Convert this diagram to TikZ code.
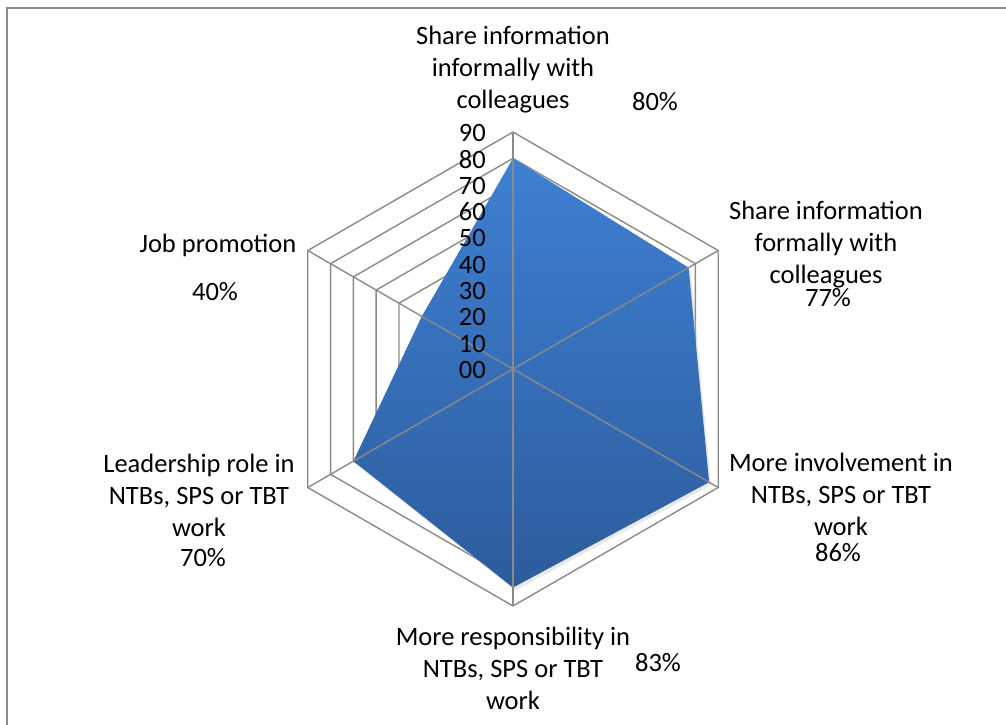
\documentclass[tikz,border=0pt]{standalone}
\usepackage{fontspec}
\setmainfont{Carlito}
\definecolor{gridgray}{HTML}{8A8A8A}
\definecolor{framegray}{HTML}{8C8C8C}
\definecolor{blueTop}{HTML}{3E80D3}
\definecolor{blueBot}{HTML}{2D5C9C}
\begin{document}
\begin{tikzpicture}[x=1pt,y=1pt,
  grid/.style={draw=gridgray, line width=1.4pt},
  lbl/.style={font=\fontsize{26.5}{32}\selectfont, align=center, inner sep=0pt},
  tick/.style={font=\fontsize{26.5}{26}\selectfont, anchor=east, inner sep=0pt}]
\useasboundingbox (0,0) rectangle (1006,-725);
\draw[framegray, line width=2pt] (1006,-8) -- (7,-8) -- (7,-725);
\coordinate (C) at (513,-369);
\begin{scope}[shift={(C)}]
  % rings
  \foreach \v in {10,20,...,90}{
    \pgfmathsetmacro\r{\v*2.633}
    \draw[grid] (90:\r) -- (30:\r) -- (-30:\r) -- (-90:\r) -- (210:\r) -- (150:\r) -- cycle;
  }
  % axis ends
  \coordinate (a1) at (90:237);
  \coordinate (a2) at (30:237);
  \coordinate (a3) at (-30:237);
  \coordinate (a4) at (-90:237);
  \coordinate (a5) at (210:237);
  \coordinate (a6) at (150:237);
  % data
  \coordinate (d1) at (90:{80*2.633});
  \coordinate (d2) at (30:{77*2.633});
  \coordinate (d3) at (-30:{86*2.633});
  \coordinate (d4) at (-90:{83*2.633});
  \coordinate (d5) at (210:{70*2.633});
  \coordinate (d6) at (150:{40*2.633});
\end{scope}
\fill[black!25, opacity=0.35] ([shift={(2,-3)}]d1) -- ([shift={(2,-3)}]d2) -- ([shift={(2,-3)}]d3) -- ([shift={(2,-3)}]d4) -- ([shift={(2,-3)}]d5) -- ([shift={(2,-3)}]d6) -- cycle;
\shade[top color=blueTop, bottom color=blueBot] (d1) -- (d2) -- (d3) -- (d4) -- (d5) -- (d6) -- cycle;
\foreach \i in {1,...,6}{ \draw[grid] (C) -- (a\i); }
% tick labels
\foreach \v/\t in {0/00,10/10,20/20,30/30,40/40,50/50,60/60,70/70,80/80,90/90}{
  \node[tick] (t\v) at (486,{-369+\v*2.633-1}) {\t};
}
% category labels
\node[lbl] (l1) at (513,-70) {Share information\\informally with\\colleagues};
\node[lbl] (p1) at (655,-102) {80\%};
\node[lbl] (l2) at (826,-245) {Share information\\formally with\\colleagues};
\node[lbl] (p2) at (828,-298) {77\%};
\node[lbl] (l3) at (841,-494) {More involvement in\\NTBs, SPS or TBT\\work};
\node[lbl] (p3) at (838,-553) {86\%};
\node[lbl] (l4) at (513,-668) {More responsibility in\\NTBs, SPS or TBT\\work};
\node[lbl] (p4) at (658,-663) {83\%};
\node[lbl] (l5) at (199,-495) {Leadership role in\\NTBs, SPS or TBT\\work};
\node[lbl] (p5) at (203,-558) {70\%};
\node[lbl] (l6) at (218,-245) {Job promotion};
\node[lbl] (p6) at (215,-292) {40\%};
\end{tikzpicture}
\end{document}
